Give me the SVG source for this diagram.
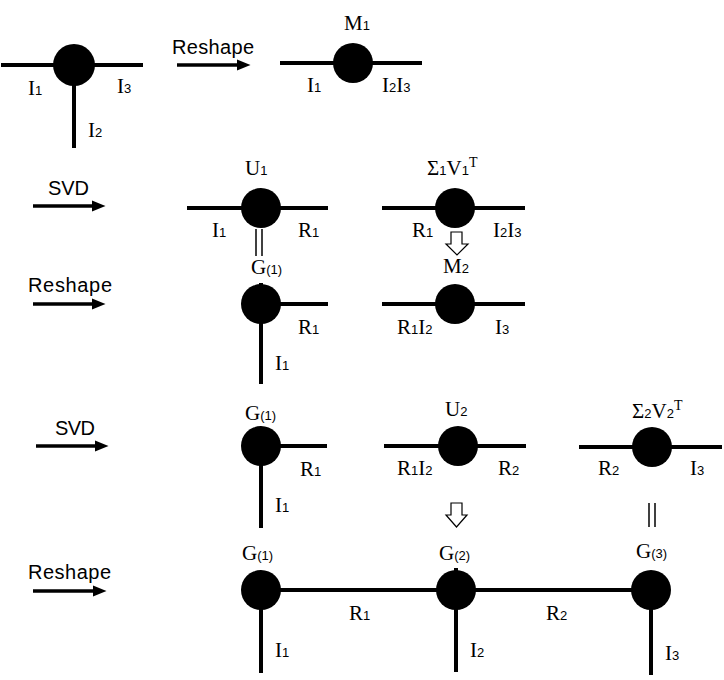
<svg xmlns="http://www.w3.org/2000/svg" width="724" height="680" viewBox="0 0 724 680">
<style>
.lbl{font-family:"Liberation Serif","Times New Roman",serif;font-size:21px;fill:#000}
.sub{font-family:"Liberation Sans",Arial,sans-serif;font-size:13px}
.sup{font-family:"Liberation Serif",serif;font-size:14px}
.op{font-family:"Liberation Sans",Arial,sans-serif;font-size:20px;fill:#000}
.leg{stroke:#000;stroke-width:4;fill:none}
.node{fill:#000}
.eq{stroke:#000;stroke-width:1.5}
.hollow{fill:#fff;stroke:#000;stroke-width:1.2}
.arr{stroke:#000;stroke-width:3.5}
</style>
<defs>
<marker id="ah" markerWidth="4" markerHeight="4" refX="1" refY="2" orient="auto" markerUnits="strokeWidth">
<path d="M0,0.4 L4,2 L0,3.6 Z" fill="#000"/>
</marker>
</defs>

<g id="connectors">
<line class="arr" x1="177" y1="65" x2="240" y2="65" marker-end="url(#ah)"/>
<line class="arr" x1="33" y1="206" x2="95" y2="206" marker-end="url(#ah)"/>
<line class="arr" x1="33" y1="304" x2="95" y2="304" marker-end="url(#ah)"/>
<line class="arr" x1="36" y1="446" x2="98" y2="446" marker-end="url(#ah)"/>
<line class="arr" x1="33" y1="591" x2="96" y2="591" marker-end="url(#ah)"/>
<line class="eq" x1="256" y1="229" x2="256" y2="256"/>
<line class="eq" x1="262" y1="229" x2="262" y2="256"/>
<line class="eq" x1="649" y1="503" x2="649" y2="527"/>
<line class="eq" x1="655" y1="503" x2="655" y2="527"/>
<path class="hollow" d="M451,232 L462,232 L462,244 L468,244 L457,255 L446,244 L451,244 Z"/>
<path class="hollow" d="M451,503 L462,503 L462,515 L467,515 L456.5,527 L446,515 L451,515 Z"/>
<line class="leg" x1="261" y1="590" x2="651" y2="590"/>
</g>

<g id="T">
<line class="leg" x1="1" y1="65" x2="143" y2="65"/>
<line class="leg" x1="74" y1="65" x2="74" y2="148"/>
<circle class="node" cx="74" cy="65" r="21"/>
<text class="lbl" x="28" y="95">I<tspan class="sub">1</tspan></text>
<text class="lbl" x="117" y="93">I<tspan class="sub">3</tspan></text>
<text class="lbl" x="88" y="137">I<tspan class="sub">2</tspan></text>
</g>

<g id="reshape1"><text class="op" x="172" y="54" textLength="82">Reshape</text></g>

<g id="M1">
<line class="leg" x1="280" y1="63" x2="422" y2="63"/>
<circle class="node" cx="353" cy="63" r="20"/>
<text class="lbl" x="344" y="30">M<tspan class="sub">1</tspan></text>
<text class="lbl" x="307" y="92">I<tspan class="sub">1</tspan></text>
<text class="lbl" x="382" y="92">I<tspan class="sub">2</tspan>I<tspan class="sub">3</tspan></text>
</g>

<g id="svd1"><text class="op" x="48" y="195" textLength="41">SVD</text></g>

<g id="U1">
<line class="leg" x1="187" y1="208" x2="328" y2="208"/>
<circle class="node" cx="261" cy="208" r="20"/>
<text class="lbl" x="245" y="175">U<tspan class="sub">1</tspan></text>
<text class="lbl" x="212" y="237">I<tspan class="sub">1</tspan></text>
<text class="lbl" x="298" y="237">R<tspan class="sub">1</tspan></text>
</g>

<g id="S1V1T">
<line class="leg" x1="382" y1="208" x2="525" y2="208"/>
<circle class="node" cx="455" cy="208" r="20"/>
<text class="lbl" x="427" y="175">Σ<tspan class="sub">1</tspan>V<tspan class="sub">1</tspan><tspan class="sup" dy="-8">T</tspan></text>
<text class="lbl" x="412" y="237">R<tspan class="sub">1</tspan></text>
<text class="lbl" x="493" y="237">I<tspan class="sub">2</tspan>I<tspan class="sub">3</tspan></text>
</g>

<g id="reshape2"><text class="op" x="28" y="292" textLength="84">Reshape</text></g>

<g id="G1a">
<line class="leg" x1="261" y1="283" x2="261" y2="384"/>
<line class="leg" x1="261" y1="304" x2="328" y2="304"/>
<circle class="node" cx="261" cy="304" r="20"/>
<text class="lbl" x="251" y="274">G<tspan class="sub">(1)</tspan></text>
<text class="lbl" x="298" y="334">R<tspan class="sub">1</tspan></text>
<text class="lbl" x="275" y="370">I<tspan class="sub">1</tspan></text>
</g>

<g id="M2">
<line class="leg" x1="382" y1="304" x2="525" y2="304"/>
<circle class="node" cx="455" cy="304" r="20"/>
<text class="lbl" x="443" y="273">M<tspan class="sub">2</tspan></text>
<text class="lbl" x="397" y="334">R<tspan class="sub">1</tspan>I<tspan class="sub">2</tspan></text>
<text class="lbl" x="495" y="334">I<tspan class="sub">3</tspan></text>
</g>

<g id="svd2"><text class="op" x="55" y="435" textLength="40">SVD</text></g>

<g id="G1b">
<line class="leg" x1="261" y1="446" x2="327" y2="446"/>
<line class="leg" x1="261" y1="446" x2="261" y2="528"/>
<circle class="node" cx="261" cy="446" r="20"/>
<text class="lbl" x="245" y="420">G<tspan class="sub">(1)</tspan></text>
<text class="lbl" x="300" y="476">R<tspan class="sub">1</tspan></text>
<text class="lbl" x="275" y="512">I<tspan class="sub">1</tspan></text>
</g>

<g id="U2">
<line class="leg" x1="384" y1="446" x2="526" y2="446"/>
<circle class="node" cx="458" cy="446" r="20"/>
<text class="lbl" x="445" y="416">U<tspan class="sub">2</tspan></text>
<text class="lbl" x="397" y="475">R<tspan class="sub">1</tspan>I<tspan class="sub">2</tspan></text>
<text class="lbl" x="498" y="475">R<tspan class="sub">2</tspan></text>
</g>

<g id="S2V2T">
<line class="leg" x1="579" y1="447" x2="722" y2="447"/>
<circle class="node" cx="652" cy="447" r="20"/>
<text class="lbl" x="632" y="418">Σ<tspan class="sub">2</tspan>V<tspan class="sub">2</tspan><tspan class="sup" dy="-8">T</tspan></text>
<text class="lbl" x="598" y="475">R<tspan class="sub">2</tspan></text>
<text class="lbl" x="690" y="475">I<tspan class="sub">3</tspan></text>
</g>

<g id="reshape3"><text class="op" x="28" y="579" textLength="83">Reshape</text></g>

<g id="G1c">
<line class="leg" x1="261" y1="590" x2="261" y2="673"/>
<circle class="node" cx="261" cy="590" r="20"/>
<text class="lbl" x="242" y="560">G<tspan class="sub">(1)</tspan></text>
<text class="lbl" x="275" y="657">I<tspan class="sub">1</tspan></text>
</g>
<text class="lbl" x="349" y="620">R<tspan class="sub">1</tspan></text>

<g id="G2">
<line class="leg" x1="456" y1="568" x2="456" y2="672"/>
<circle class="node" cx="456" cy="590" r="20"/>
<text class="lbl" x="439" y="560">G<tspan class="sub">(2)</tspan></text>
<text class="lbl" x="470" y="657">I<tspan class="sub">2</tspan></text>
</g>
<text class="lbl" x="546" y="620">R<tspan class="sub">2</tspan></text>

<g id="G3">
<line class="leg" x1="651" y1="590" x2="651" y2="675"/>
<circle class="node" cx="651" cy="590" r="20"/>
<text class="lbl" x="636" y="558">G<tspan class="sub">(3)</tspan></text>
<text class="lbl" x="665" y="660">I<tspan class="sub">3</tspan></text>
</g>
</svg>
